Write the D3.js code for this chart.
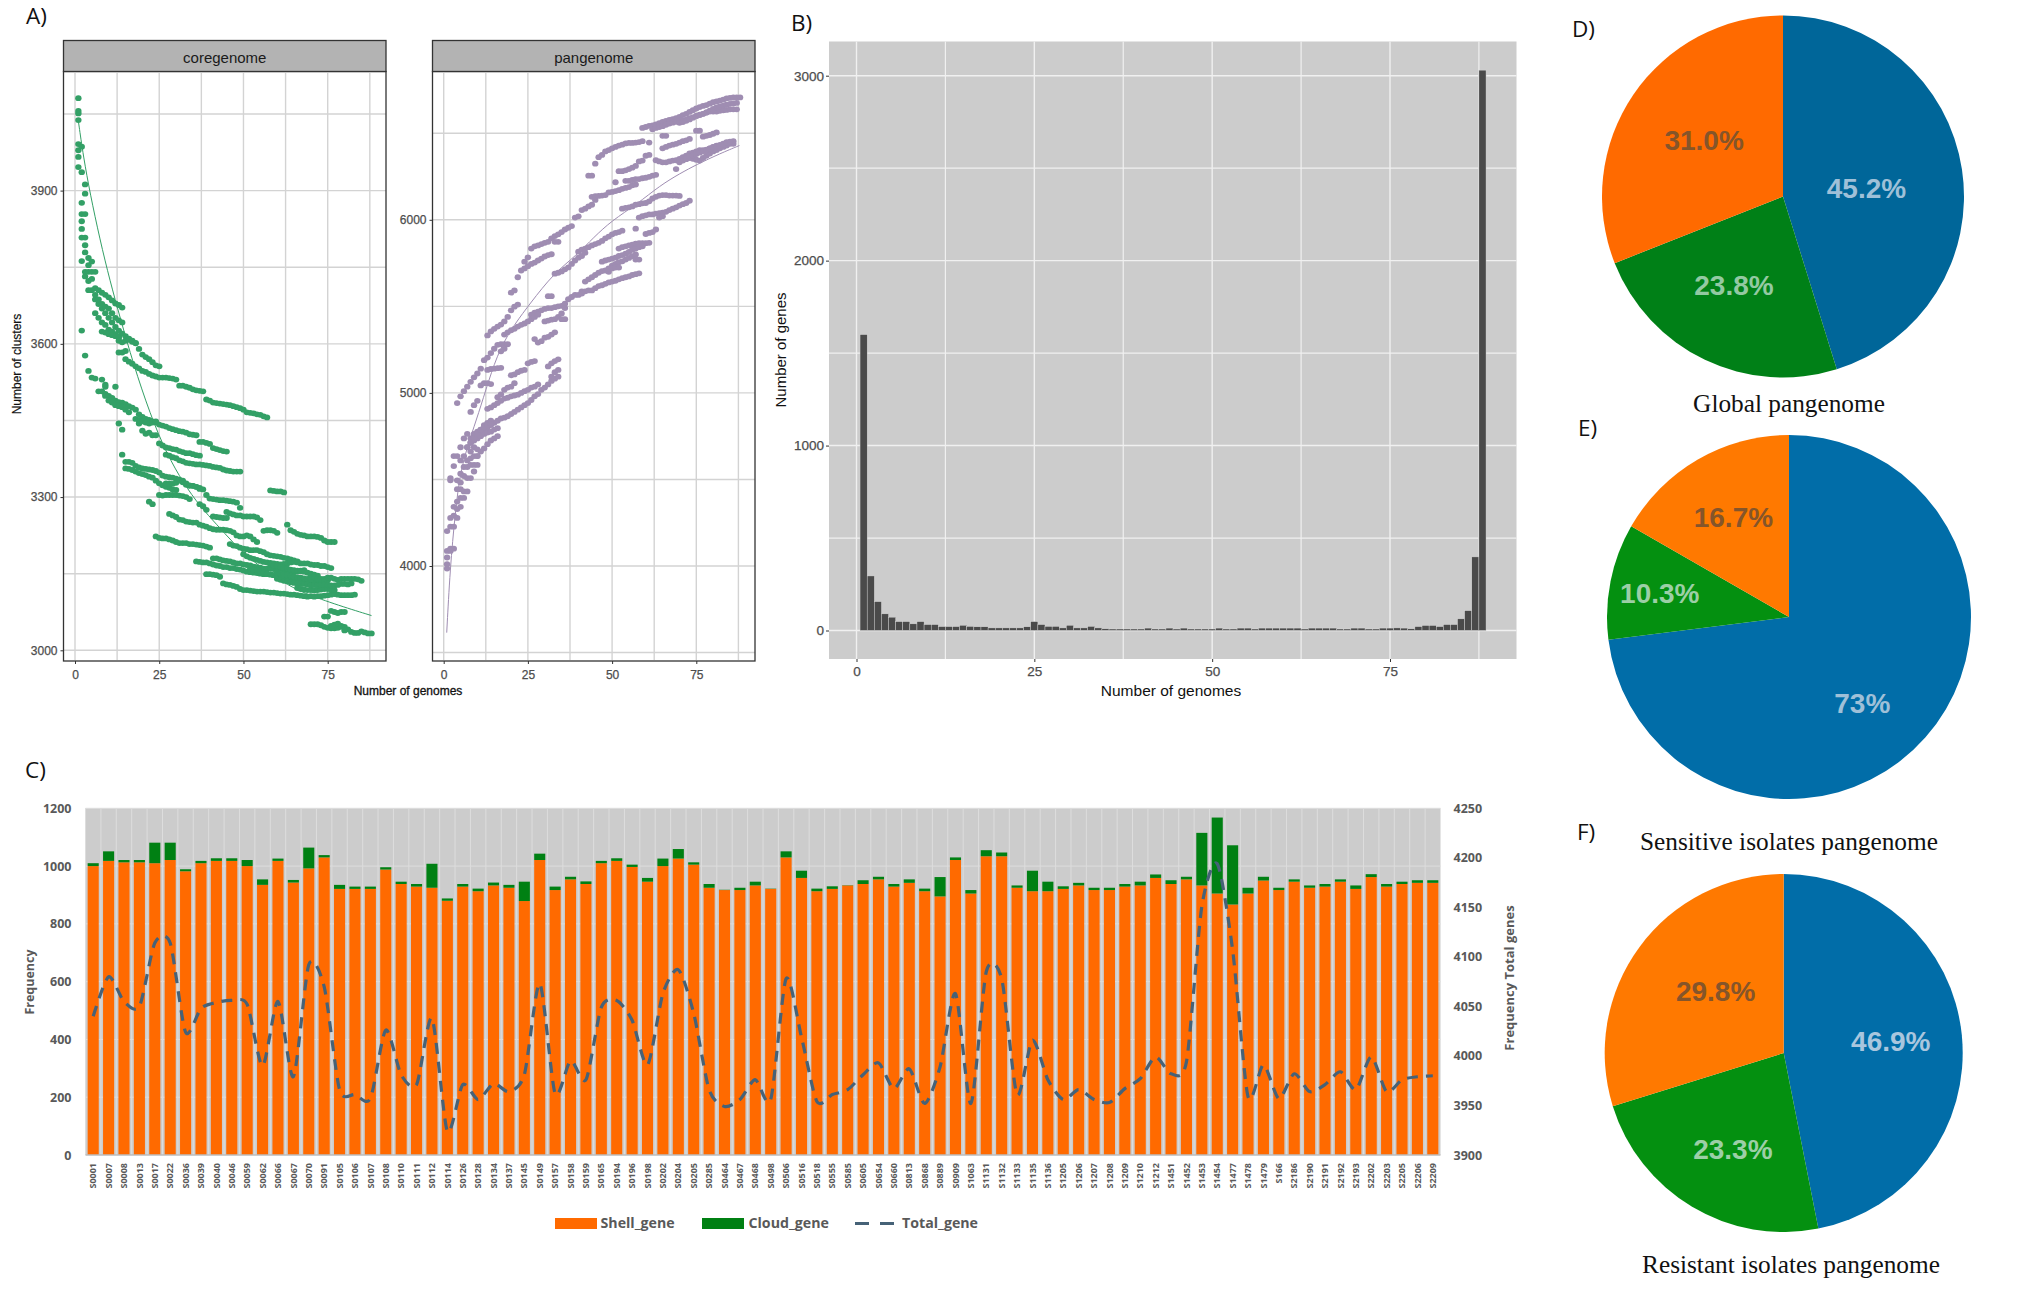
<!DOCTYPE html>
<html>
<head>
	<meta charset="utf-8">
	<title>Pangenome figure</title>
	<script type="text/javascript" src="https://cdn.jsdelivr.net/npm/d3@7"></script>
	<style>
		html, body { margin: 0; padding: 0; background: #fff; }
		svg { display: block; }
	</style>
</head>
<body>
<svg id="fig" width="2033" height="1312"></svg>

<script type="text/javascript">

// ---- panel A, coregenome. each track is [first genome count, value, value, ...]
var core_tracks = [
	[15,3570,3565,3561,3556,3552,3547,3545,3541,3538,3536,3534,3534,3534,3533,3532,3530,3518,3518,3516,3514,3511,3509,3508,3507,3491,3489,3485,3484,3483,3482,3481,3480,3478,3476,3474,3471,3466,3465,3464,3462,3461,3458,3456],
	[6,3687,3678,3669,3660,3651,3642,3633,3626,3620,3615,3610,3606,3602,3590,3579,3574,3570,3564,3558,3556],
	[6,3709,3705,3700,3696,3691,3685,3679,3676,3671],
	[5,3705,3696,3687,3678,3673,3669,3660,3651,3646,3642],
	[6,3660,3651,3642,3637,3628,3624,3619,3615],
	[8,3624,3622,3619,3617,3615,3612],
	[13,3583,3583,3586],
	[13,3606,3603,3606,3608,3604,3601],
	[7,3507,3507,3502,3498,3494,3489,3486,3485,3482,3478,3475,3471,3462,3457,3453,3451,3448,3446,3442,3440,3438,3435,3433,3431,3429,3428,3426,3423,3422,3421],
	[9,3498,3489,3485,3480,3478,3476,3471,3466],
	[19,3444,3430,3424,3426,3421,3421],
	[18,3453,3451,3448,3446,3444,3446,3448],
	[25,3405,3401,3397,3396,3394,3393,3390,3388,3386,3386,3384,3382,3381],
	[37,3408,3408,3406,3404,3396,3394,3392,3390,3389],
	[27,3383,3381,3378,3376,3372,3370,3367,3366,3365,3364,3364,3363,3362,3361,3359,3358,3357,3354,3352,3351,3350,3350,3350],
	[15,3369,3369,3367,3361,3358,3356,3355,3354,3353,3351,3348,3342,3340,3339,3338,3336,3334,3329,3324,3322,3322,3320,3318,3315,3304,3297,3296,3295,3294,3294,3293,3292,3291,3289,3279],
	[15,3356,3355,3353,3350,3347,3345,3343,3340,3338,3332,3327,3323,3320,3318,3315,3314],
	[25,3304,3303,3304,3304,3304,3304,3303,3302,3300,3296],
	[27,3327,3327,3326,3328,3332,3332,3327,3323,3322,3320,3316],
	[37,3286,3282,3275],
	[41,3262,3261,3260,3259,3259],
	[45,3271,3268,3266,3264,3264,3262,3262,3262,3262,3260,3255],
	[28,3267,3264,3261,3256,3255,3252,3251,3250,3250,3246,3244,3242,3239,3237,3236,3236,3236,3235,3234,3231,3225,3223,3223,3225,3223,3217,3212],
	[24,3223,3220,3219,3219,3217,3215,3212,3210,3210,3210,3208,3208,3207,3206,3205,3203,3201],
	[36,3174,3173,3172,3172,3170,3168,3166,3165,3163,3163,3161,3161,3159,3158,3156,3154,3153,3152,3151,3150,3149,3149,3149,3147,3147,3146,3145,3143,3142,3142,3140],
	[41,3180,3180,3178,3176,3175,3174,3172,3170,3170,3168,3167,3166,3164,3163,3162,3160,3160,3160,3159,3158,3158,3157,3156,3155,3154,3155,3156,3157],
	[46,3208,3205,3204,3201,3199,3198,3196,3196,3196,3194,3192,3188,3186,3185,3184,3183,3181,3180,3178,3176,3172,3170,3170,3170,3168,3167,3167,3165,3165,3163,3161],
	[50,3188,3184,3181,3179,3177,3175,3173,3172,3171,3170,3169,3168,3169,3170,3172,3173,3174],
	[52,3160,3158,3157,3155,3153,3150,3148,3147,3146,3145,3143,3141,3139,3138,3137,3136,3135,3135,3135,3134,3134,3135,3136,3137],
	[60,3140,3138,3136,3135,3133,3132,3131,3130,3130,3129,3129,3128,3128],
	[58,3168,3166,3165,3163,3161,3160,3158,3157,3156,3155,3154,3152,3150,3148,3146],
	[60,3152,3150,3149,3147,3146,3144,3143,3142,3141,3140,3139],
	[39,3149,3149,3148,3147,3144],
	[44,3131,3129,3128,3126,3124,3120,3118,3118,3117,3116,3115,3115,3115,3114,3113,3113,3112,3111,3111,3110,3109,3109,3108,3107,3106,3105,3106,3105,3106,3106,3107,3108,3109,3110,3109,3108,3108,3108,3108,3109],
	[66,3122,3120,3119,3118,3118,3117,3118,3119,3120,3120,3119,3118],
	[70,3147,3143,3140,3140,3140,3142,3142,3140,3138,3140,3140,3140,3140,3140,3139,3136],
	[70,3127,3128,3127,3128,3128,3128,3127,3127,3128,3130,3130,3129,3131],
	[64,3235,3232,3228,3226,3225,3223,3223,3223,3222,3220,3215,3212,3212,3212],
	[58,3313,3312,3311,3311,3309],
	[56,3234,3235,3235,3234,3230],
	[74,3066,3066,3077,3075,3073,3075,3075],
	[70,3051,3051,3051,3049,3046,3044,3043,3043,3044,3048,3046,3041,3036,3034,3034,3037,3035,3033,3033],
	[76,3048,3050,3052,3046,3039]
]

// loose points in the coregenome panel, [genomes, clusters]
var core_scatter = [
	[1,4081],[1,4056],[1,4051],[1,4038],[1,3991],[1,3979],[1,3966],[1,3946],
	[2,3986],[2,3936],[2,3876],[2,3854],[2,3840],[2,3825],[2,3808],[2,3762],[2,3626],
	[3,3912],[3,3894],[3,3854],[3,3808],[3,3793],[3,3779],[3,3741],[3,3732],[3,3577],
	[4,3768],[4,3754],[4,3741],[4,3723],[4,3705],[4,3547],
	[5,3761],[5,3741],[5,3727],[5,3534],[6,3741],[6,3532],[8,3530],[9,3520],[9,3516],[12,3516],
	[13,3444],[14,3432],[14,3383],[22,3291],[23,3286],[63,3246]
]

var core_fit_x = [1,2.5,4.5,7.4,10.4,13.4,17.3,22.3,27.2,32.2,37.1,42.1,47,52,56.9,61.9,66.8,76.7,88]
var core_fit_y = [4036,3966,3894,3804,3723,3651,3561,3462,3385,3327,3282,3246,3210,3178,3156,3133,3115,3091,3068]

// ---- panel A, pangenome
var pan_tracks = [
	[4,4941,4980,5010,5036,5064,5090,5112,5140],
	[12,5189,5204,5230,5255,5278,5281,5281],
	[13,5332,5355,5370,5383,5395,5413,5439,5477,5498,5510],
	[20,5579,5592],
	[22,5668,5707,5758,5783,5834,5847,5852,5860,5867,5873,5893,5906,5916,5929,5944,5954,5964],
	[39,6013,6020,6056,6064,6077,6087,6115],
	[24,5719,5732,5745,5753,5765,5776,5788,5796,5801],
	[33,5873,5873],
	[43,6255,6255,6324,6362,6375,6395,6403,6413,6421,6429,6434,6441,6444,6444,6446,6449,6454],
	[59,6531,6536,6543,6546,6551,6559,6566,6571,6577,6582,6587,6594,6605,6612,6623,6633,6643,6651,6658,6663,6671,6679,6684,6689,6694,6702,6704,6707,6707,6707],
	[62,6523,6531,6536,6541,6549,6556,6561,6566,6571,6574,6579,6587,6592,6600,6607,6612,6620,6625,6625,6625,6630,6633,6635,6638,6638,6638],
	[70,6560,6565,6572,6580,6590,6600,6605,6612,6620,6630,6640,6650,6655,6660,6665,6670,6672,6675],
	[65,6485,6485],
	[65,6413,6421,6429,6434,6439,6446,6454,6459,6467],
	[75,6515,6515],
	[77,6480,6485,6490,6497,6505],
	[63,6344,6337,6332,6332,6337,6342,6344,6352,6362,6370,6383,6388,6395,6403,6403,6403,6413,6421,6429,6429,6434,6439,6446,6454],
	[69,6293,6332,6342,6350,6357,6352,6347,6342,6357,6370,6383,6395,6403,6413,6421,6429,6439,6439],
	[72,6355,6365,6372,6380,6388,6396,6405,6412,6420,6426,6432,6440,6448,6452],
	[52,6281,6281,6286,6293,6301,6311,6337,6342,6370,6375],
	[54,6225,6225,6230,6235,6235,6240,6243,6248,6255,6260],
	[44,6133,6136,6138,6140,6143,6158,6161,6166,6171,6179,6184,6189,6199,6204],
	[53,6064,6069,6072,6077,6087,6090,6095,6097,6107,6123,6133,6140,6143,6143,6140,6140,6140,6138],
	[58,6013,6021,6026,6031,6031,6036,6038,6041,6046,6056,6064,6072,6082,6090,6097,6110],
	[64,6013,6021],
	[60,5918,5924,5929,5944],
	[52,5834,5842,5847,5852,5857,5862,5865,5865,5865,5867],
	[47,5758,5765,5770,5776,5781,5791,5796,5804,5814,5827,5834,5842,5847],
	[49,5700,5735,5745,5755,5760,5770,5780,5790,5800],
	[57,5770,5770],
	[42,5643,5656,5668,5681,5694,5704,5707,5719,5719,5724,5724],
	[41,5587,5587,5592,5592,5605,5617,5622,5630,5638,5643,5648,5656,5663,5668,5673,5681,5686,5691],
	[40,5816,5827,5834,5842,5852,5860,5867,5878,5893,5903,5916,5924,5929,5937],
	[33,5689,5694,5702,5714,5725,5745,5765,5781,5791,5809],
	[26,5452,5464,5469,5477,5485,5490,5490,5495,5500,5503,5515,5541,5554,5566,5566,5574],
	[34,5439,5459,5490],
	[35,5426,5426],
	[30,5413,5418,5423,5426],
	[27,5311,5291,5299,5319,5324,5337,5350],
	[31,5559,5559],
	[18,5337,5350,5362,5370,5383,5393,5401,5413,5426,5439,5452],
	[17,5240,5255,5281],
	[20,5102,5107,5120,5128,5133,5171,5179,5184],
	[31,5153,5171,5184,5194],
	[32,5094,5120,5133],
	[9,4750,4763,4776,4788,4801,4814,4827,4839,4852,4857,4865,4878,4890,4903,4916,4929,4941,4959,4980,4993,5018,5031,5049,5069,5082,5094],
	[16,4975,4992,5018,5031,5036,5056],
	[13,4908,4916,4929,4941,4954,4967,4972,4980,4985,4990,5000,5010,5018,5031,5036,5049],
	[8,4890,4929,4954],
	[11,5043,5056,5056,5051],
	[13,5133,5138,5140,5143,5145],
	[10,4635,4661,4679,4704,4725,4737,4750],
	[8,4712,4725,4737,4750,4763,4771,4776,4788,4796],
	[8,4737,4763,4776,4788,4814,4827,4839],
	[7,4686,4712,4737,4763,4788,4801,4814,4819]
]

var pan_scatter = [
	[1,3985],[1,4010],[1,4049],[1,4087],[1,4202],
	[2,4087],[2,4100],[2,4227],[2,4278],[2,4495],[2,4508],
	[3,4227],[3,4291],[3,4100],[3,4342],[3,4577],[3,4635],
	[4,4278],[4,4329],[4,4372],[4,4444],[4,4495],[4,4635],
	[5,4342],[5,4393],[5,4444],[5,4482],[5,4533],[5,4610],[5,4686],
	[6,4393],[6,4431],[6,4520],[6,4572],[6,4635],[6,4737],
	[7,4431],[7,4508],[7,4572],[7,4610],[7,4686],[7,4763],
	[8,4508],[8,4584],[8,4622],[8,4661],
	[9,4546],[9,4584],[9,4635],[9,4686],
	[10,4635],[10,4584],[10,4674],[51,6217],[57,5949],[61,6446]
]

var pan_fit_x = [0.9,1.9,3.4,4.9,7.8,10.3,13.3,16.7,21.2,25.6,32.6,39.5,44.5,49.9,57.3,64.3,70.2,75.1,82.1,87.8]
var pan_fit_y = [3615,3985,4304,4546,4737,4878,5069,5260,5401,5515,5689,5796,5898,5995,6089,6199,6268,6319,6383,6429]

// ---- panel B, genes found in n genomes, n = 1..88
var hist_genes = [1600,295,156,90,72,48,48,36,48,32,32,21,21,21,28,22,20,20,14,14,14,14,14,20,48,32,22,22,14,28,14,14,22,14,9,8,8,8,8,8,13,8,8,13,8,13,8,8,8,8,13,8,8,13,13,8,13,13,13,13,13,13,8,13,13,13,13,8,8,13,13,8,8,13,13,14,13,9,21,27,27,21,32,32,63,107,398,3030]

// ---- panel C
var samples = ['S0001','S0007','S0008','S0013','S0017','S0022','S0036','S0039','S0040','S0046','S0059','S0062','S0066','S0067','S0070','S0091','S0105','S0106','S0107','S0108','S0110','S0111','S0112','S0114','S0126','S0128','S0134','S0137','S0145','S0149','S0157','S0158','S0159','S0165','S0194','S0196','S0198','S0202','S0204','S0205','S0285','S0464','S0467','S0468','S0498','S0506','S0516','S0518','S0555','S0585','S0605','S0654','S0660','S0813','S0868','S0889','S0909','S1063','S1131','S1132','S1133','S1135','S1136','S1205','S1206','S1207','S1208','S1209','S1210','S1212','S1451','S1452','S1453','S1454','S1477','S1478','S1479','S166','S2186','S2190','S2191','S2192','S2193','S2202','S2203','S2205','S2206','S2209']

var shell_gene = [1000,1018,1013,1013,1010,1021,982,1010,1018,1018,1000,935,1018,943,992,1030,921,921,921,988,938,929,925,880,929,913,933,925,879,1021,917,954,938,1010,1018,997,946,1000,1026,1005,925,917,917,933,921,1030,959,913,921,933,938,954,929,942,913,895,1021,905,1034,1034,925,913,913,921,933,917,917,929,933,959,938,954,933,905,867,905,950,917,946,925,929,946,921,962,929,938,942,942]

var cloud_gene = [10,33,8,8,71,60,7,8,9,9,21,19,8,9,72,8,14,8,8,8,8,9,83,8,9,9,10,10,67,22,12,9,9,8,9,8,13,26,33,8,13,1,8,13,1,21,25,9,9,1,13,9,9,12,9,67,9,12,21,13,8,71,33,9,9,8,8,9,13,12,13,9,182,263,205,20,13,8,8,8,9,8,12,10,9,8,9,9]

var total_gene = [4040,4080,4055,4050,4114,4114,4024,4048,4054,4056,4052,3990,4055,3979,4092,4070,3966,3961,3957,4026,3981,3971,4038,3924,3971,3956,3972,3964,3981,4073,3962,3995,3976,4049,4056,4036,3991,4063,4087,4043,3966,3949,3956,3976,3956,4078,4019,3954,3961,3966,3981,3993,3967,3987,3952,3989,4063,3952,4085,4078,3961,4016,3976,3956,3966,3956,3953,3967,3977,3999,3982,3994,4151,4194,4107,3959,3991,3957,3982,3964,3971,3984,3966,3999,3964,3976,3979,3980]

// ---- panels D, E, F. slices go blue, green, orange, clockwise from the top
var pie_global = [45.2, 23.8, 31.0]
var pie_sensitive = [73, 10.3, 16.7]
var pie_resistant = [46.9, 23.3, 29.8]
var pie_global_labels = ['45.2%', '23.8%', '31.0%']
var pie_sensitive_labels = ['73%', '10.3%', '16.7%']
var pie_resistant_labels = ['46.9%', '23.3%', '29.8%']


var svg = d3.select('#fig')
var grey_text = '#4d4d4d'
var sans = '"Liberation Sans", Arial, sans-serif'
var ui = '"Open Sans", sans-serif'
var serif = '"Liberation Serif", serif'
var plain = d3.format('d')

function panel_letter(txt, x, y){
	svg.append('text').attr('x', x).attr('y', y)
		.attr('font-family', ui).attr('font-size', 22.5).attr('fill', '#111')
		.text(txt)
}

panel_letter('A)', 26, 24)
panel_letter('B)', 791, 31)
panel_letter('C)', 25, 778)
panel_letter('D)', 1572, 37)
panel_letter('E)', 1578, 436)
panel_letter('F)', 1577, 840)


// ---- A ----

function curve_panel(opts){
	var g = svg.append('g')
	var x = d3.scaleLinear().domain([0, 75]).range(opts.x_range)
	var y = d3.scaleLinear().domain(opts.y_domain).range(opts.y_range)

	g.append('rect').attr('x', opts.left).attr('y', 71.5)
		.attr('width', opts.right - opts.left).attr('height', 661 - 71.5)
		.attr('fill', '#fff')

	// grid, gets drawn on every 12.5 / half step like ggplot minor lines
	d3.range(0, 88, 12.5).forEach(function(v){
		g.append('line').attr('x1', x(v)).attr('x2', x(v)).attr('y1', 73).attr('y2', 660)
			.attr('stroke', '#d3d3d3').attr('stroke-width', 1.4)
	})
	opts.grid.forEach(function(v){
		g.append('line').attr('x1', opts.left).attr('x2', opts.right).attr('y1', y(v)).attr('y2', y(v))
			.attr('stroke', '#d3d3d3').attr('stroke-width', 1.4)
	})

	var pts = []
	opts.tracks.forEach(function(t){
		t.slice(1).forEach(function(v, i){ pts.push([t[0] + i, v]) })
	})
	pts = pts.concat(opts.scatter)

	g.selectAll('.pt').data(pts).enter().append('ellipse')
		.attr('class', 'pt')
		.attr('cx', function(d){ return x(d[0]) })
		.attr('cy', function(d){ return y(d[1]) })
		.attr('rx', 3.2).attr('ry', 2.9)
		.attr('fill', opts.color)

	var line = d3.line().x(function(d){ return x(d[0]) }).y(function(d){ return y(d[1]) }).curve(d3.curveBasis)
	g.append('path').datum(d3.zip(opts.fit_x, opts.fit_y))
		.attr('d', line).attr('fill', 'none').attr('stroke', opts.color).attr('stroke-width', 1)

	g.append('rect').attr('x', opts.left).attr('y', 71.5)
		.attr('width', opts.right - opts.left).attr('height', 661 - 71.5)
		.attr('fill', 'none').attr('stroke', '#333').attr('stroke-width', 1.3)

	// strip
	g.append('rect').attr('x', opts.left).attr('y', 40.5)
		.attr('width', opts.right - opts.left).attr('height', 31)
		.attr('fill', '#b3b3b3').attr('stroke', '#333').attr('stroke-width', 1.3)
	g.append('text').attr('x', (opts.left + opts.right) / 2).attr('y', 63)
		.attr('text-anchor', 'middle').attr('font-family', sans).attr('font-size', 15).attr('fill', '#1a1a1a')
		.text(opts.title)

	var ax_x = g.append('g').attr('transform', 'translate(0,661)')
		.call(d3.axisBottom(x).tickValues([0, 25, 50, 75]).tickSize(3).tickPadding(6))
	var ax_y = g.append('g').attr('transform', 'translate(' + opts.left + ',0)')
		.call(d3.axisLeft(y).tickValues(opts.ticks).tickFormat(plain).tickSize(3).tickPadding(3))
	;[ax_x, ax_y].forEach(function(a){
		a.select('.domain').remove()
		a.selectAll('line').attr('stroke', '#333')
		a.selectAll('text').attr('font-family', sans).attr('font-size', 12)
			.attr('fill', grey_text).attr('stroke', grey_text).attr('stroke-width', 0.25)
	})
}

curve_panel({
	title: 'coregenome', left: 63.5, right: 386, x_range: [75, 327.7],
	y_domain: [3000, 3900], y_range: [650.3, 190.6],
	ticks: [3000, 3300, 3600, 3900], grid: [3000, 3150, 3300, 3450, 3600, 3750, 3900, 4050],
	tracks: core_tracks, scatter: core_scatter, fit_x: core_fit_x, fit_y: core_fit_y,
	color: '#33a066'
})

curve_panel({
	title: 'pangenome', left: 432.5, right: 755, x_range: [443.7, 696.3],
	y_domain: [4000, 6000], y_range: [566, 219.8],
	ticks: [4000, 5000, 6000], grid: [3500, 4000, 4500, 5000, 5500, 6000, 6500],
	tracks: pan_tracks, scatter: pan_scatter, fit_x: pan_fit_x, fit_y: pan_fit_y,
	color: '#9f8db2'
})

svg.append('text').attr('x', 408).attr('y', 695).attr('text-anchor', 'middle')
	.attr('font-family', sans).attr('font-size', 12).attr('fill', '#111')
	.attr('stroke', '#111').attr('stroke-width', 0.3)
	.text('Number of genomes')

svg.append('text').attr('transform', 'translate(21,364) rotate(-90)').attr('text-anchor', 'middle')
	.attr('font-family', sans).attr('font-size', 12).attr('fill', '#111')
	.attr('stroke', '#111').attr('stroke-width', 0.2)
	.text('Number of clusters')


// ---- B ----

var b_left = 829, b_right = 1516.5, b_top = 41.5, b_bottom = 659
var b_x = d3.scaleLinear().domain([0, 75]).range([856.5, 1390])
var b_y = d3.scaleLinear().domain([0, 3000]).range([630.5, 75.7])
var b_g = svg.append('g')

b_g.append('rect').attr('x', b_left).attr('y', b_top)
	.attr('width', b_right - b_left).attr('height', b_bottom - b_top).attr('fill', '#cccccc')

d3.range(0, 88, 12.5).forEach(function(v){
	b_g.append('line').attr('x1', b_x(v)).attr('x2', b_x(v)).attr('y1', b_top).attr('y2', b_bottom)
		.attr('stroke', '#f0f0f0').attr('stroke-width', v % 25 == 0 ? 1.4 : 1.2)
})
d3.range(0, 3001, 500).forEach(function(v){
	b_g.append('line').attr('x1', b_left).attr('x2', b_right).attr('y1', b_y(v)).attr('y2', b_y(v))
		.attr('stroke', '#f0f0f0').attr('stroke-width', v % 1000 == 0 ? 1.4 : 1.2)
})

var bw = b_x(1) - b_x(0)
b_g.selectAll('.hist').data(hist_genes).enter().append('rect')
	.attr('class', 'hist')
	.attr('x', function(d, i){ return b_x(i + 1) - bw / 2 })
	.attr('width', bw)
	.attr('y', function(d){ return b_y(d) })
	.attr('height', function(d){ return b_y(0) - b_y(d) })
	.attr('fill', '#4a4a4a').attr('stroke', '#dcdcdc').attr('stroke-width', 0.4)

var b_ax_x = b_g.append('g').attr('transform', 'translate(0,' + b_bottom + ')')
	.call(d3.axisBottom(b_x).tickValues([0, 25, 50, 75]).tickSize(3).tickPadding(4))
var b_ax_y = b_g.append('g').attr('transform', 'translate(' + b_left + ',0)')
	.call(d3.axisLeft(b_y).tickValues([0, 1000, 2000, 3000]).tickFormat(plain).tickSize(3).tickPadding(2))
;[b_ax_x, b_ax_y].forEach(function(a){
	a.select('.domain').remove()
	a.selectAll('line').attr('stroke', '#333')
	a.selectAll('text').attr('font-family', sans).attr('font-size', 13.5)
		.attr('fill', grey_text).attr('stroke', grey_text).attr('stroke-width', 0.25)
})

svg.append('text').attr('x', 1171).attr('y', 696).attr('text-anchor', 'middle')
	.attr('font-family', sans).attr('font-size', 15.5).attr('fill', '#111')
	.text('Number of genomes')
svg.append('text').attr('transform', 'translate(786,350) rotate(-90)').attr('text-anchor', 'middle')
	.attr('font-family', sans).attr('font-size', 15).attr('fill', '#111')
	.text('Number of genes')


// ---- C ----

var c_left = 85.5, c_right = 1440.5, c_top = 808.3, c_bottom = 1155
var c_x = d3.scaleBand().domain(samples).range([c_left, c_right]).paddingInner(0.28).paddingOuter(0.14)
var c_y = d3.scaleLinear().domain([0, 1200]).range([c_bottom, c_top])
var c_y2 = d3.scaleLinear().domain([3900, 4250]).range([c_bottom, c_top])
var c_g = svg.append('g')

c_g.append('rect').attr('x', c_left).attr('y', c_top)
	.attr('width', c_right - c_left).attr('height', c_bottom - c_top).attr('fill', '#cccccc')

samples.forEach(function(s, i){
	var gx = c_left + i * c_x.step()
	c_g.append('line').attr('x1', gx).attr('x2', gx).attr('y1', c_top).attr('y2', c_bottom)
		.attr('stroke', '#dddddd').attr('stroke-width', 1)
})
d3.range(200, 1201, 200).forEach(function(v){
	c_g.append('line').attr('x1', c_left).attr('x2', c_right).attr('y1', c_y(v)).attr('y2', c_y(v))
		.attr('stroke', '#dddddd').attr('stroke-width', 1)
})

var stack_rows = samples.map(function(s, i){
	return {sample: s, Shell_gene: shell_gene[i], Cloud_gene: cloud_gene[i]}
})
var stacked = d3.stack().keys(['Shell_gene', 'Cloud_gene'])(stack_rows)
var bar_cols = {Shell_gene: '#ff6a00', Cloud_gene: '#008013'}

stacked.forEach(function(layer){
	c_g.selectAll('.bar_' + layer.key).data(layer).enter().append('rect')
		.attr('class', 'bar_' + layer.key)
		.attr('x', function(d){ return c_x(d.data.sample) })
		.attr('width', c_x.bandwidth())
		.attr('y', function(d){ return c_y(d[1]) })
		.attr('height', function(d){ return c_y(d[0]) - c_y(d[1]) })
		.attr('fill', bar_cols[layer.key])
})

var total_line = d3.line()
	.x(function(d, i){ return c_x(samples[i]) + c_x.bandwidth() / 2 })
	.y(function(d){ return c_y2(d) })
	.curve(d3.curveCardinal.tension(0.25))

c_g.append('path').datum(total_gene).attr('d', total_line)
	.attr('fill', 'none').attr('stroke', '#466277').attr('stroke-width', 3.2)
	.attr('stroke-dasharray', '11 8')

c_g.append('line').attr('x1', c_left).attr('x2', c_right).attr('y1', c_bottom).attr('y2', c_bottom)
	.attr('stroke', '#bdbdbd').attr('stroke-width', 1.6)

var c_txt = '#595959'
var ax_c_left = c_g.append('g').attr('transform', 'translate(' + c_left + ',0)')
	.call(d3.axisLeft(c_y).tickValues(d3.range(0, 1201, 200)).tickFormat(plain).tickSize(0).tickPadding(14))
var ax_c_right = c_g.append('g').attr('transform', 'translate(' + c_right + ',0)')
	.call(d3.axisRight(c_y2).tickValues(d3.range(3900, 4251, 50)).tickFormat(plain).tickSize(0).tickPadding(13))
;[ax_c_left, ax_c_right].forEach(function(a){
	a.select('.domain').remove()
	a.selectAll('text').attr('font-family', ui).attr('font-weight', 700).attr('font-size', 12.5).attr('fill', c_txt)
})

var ax_c_bot = c_g.append('g').attr('transform', 'translate(0,' + c_bottom + ')')
	.call(d3.axisBottom(c_x).tickSize(0).tickPadding(0))
ax_c_bot.select('.domain').remove()
ax_c_bot.selectAll('text')
	.attr('transform', 'translate(0,8) rotate(-90)')
	.attr('text-anchor', 'end').attr('dy', '0.35em').attr('y', 0)
	.attr('font-family', ui).attr('font-weight', 700).attr('font-size', 9).attr('fill', c_txt)

svg.append('text').attr('transform', 'translate(34,982) rotate(-90)').attr('text-anchor', 'middle')
	.attr('font-family', ui).attr('font-weight', 700).attr('font-size', 12.5).attr('fill', c_txt)
	.text('Frequency')
svg.append('text').attr('transform', 'translate(1514,978) rotate(-90)').attr('text-anchor', 'middle')
	.attr('font-family', ui).attr('font-weight', 700).attr('font-size', 13).attr('fill', c_txt)
	.text('Frequency Total genes')

// legend
var legend = svg.append('g').attr('font-family', ui).attr('font-weight', 700).attr('font-size', 14.2).attr('fill', c_txt)
legend.append('rect').attr('x', 555).attr('y', 1218).attr('width', 42).attr('height', 11).attr('fill', bar_cols.Shell_gene)
legend.append('text').attr('x', 600.5).attr('y', 1228).text('Shell_gene')
legend.append('rect').attr('x', 702).attr('y', 1218).attr('width', 42).attr('height', 11).attr('fill', bar_cols.Cloud_gene)
legend.append('text').attr('x', 748.5).attr('y', 1228).text('Cloud_gene')
legend.append('line').attr('x1', 855).attr('x2', 895).attr('y1', 1223.5).attr('y2', 1223.5)
	.attr('stroke', '#466277').attr('stroke-width', 3.2).attr('stroke-dasharray', '14 11')
legend.append('text').attr('x', 902).attr('y', 1228).text('Total_gene')


// ---- D, E, F ----

function draw_pie(values, labels, o){
	var g = svg.append('g').attr('transform', 'translate(' + o.cx + ',' + o.cy + ')')
	var arcs = d3.pie().sort(null)(values)
	var arc = d3.arc().innerRadius(0).outerRadius(o.r)

	g.selectAll('path').data(arcs).enter().append('path')
		.attr('d', arc)
		.attr('fill', function(d, i){ return o.colors[i] })

	g.selectAll('text').data(arcs).enter().append('text')
		.attr('transform', function(d, i){
			var c = arc.centroid(d)
			return 'translate(' + (c[0] + o.nudge[i][0]) + ',' + (c[1] + o.nudge[i][1]) + ')'
		})
		.attr('text-anchor', 'middle').attr('dy', '0.36em')
		.attr('font-family', sans).attr('font-weight', 700).attr('font-size', 28)
		.attr('fill', function(d, i){ return o.label_cols[i] })
		.text(function(d, i){ return labels[i] })

	svg.append('text').attr('x', o.cap_x).attr('y', o.cap_y).attr('text-anchor', 'middle')
		.attr('font-family', serif).attr('font-size', 25.3).attr('fill', '#111')
		.text(o.caption)
}

draw_pie(pie_global, pie_global_labels, {
	cx: 1783, cy: 196.5, r: 181,
	colors: ['#006699', '#008017', '#ff6a00'],
	label_cols: ['#9fc0d8', '#93c9a2', '#85552a'],
	nudge: [[-6, 5], [-10, 7], [-4, -6]],
	caption: 'Global pangenome', cap_x: 1789, cap_y: 412
})

draw_pie(pie_sensitive, pie_sensitive_labels, {
	cx: 1789, cy: 617, r: 182,
	colors: ['#016da8', '#049010', '#ff7900'],
	label_cols: ['#9fc0d8', '#9ccfa6', '#85552a'],
	nudge: [[5, 26], [-40, -6], [-10, -21]],
	caption: 'Sensitive isolates pangenome', cap_x: 1789, cap_y: 850
})

draw_pie(pie_resistant, pie_resistant_labels, {
	cx: 1783.7, cy: 1053, r: 179,
	colors: ['#016da8', '#049010', '#ff7900'],
	label_cols: ['#a9c6de', '#9ccfa6', '#85552a'],
	nudge: [[18, -3], [-5, 19], [4, -9]],
	caption: 'Resistant isolates pangenome', cap_x: 1791, cap_y: 1273
})

</script>
</body>
</html>
